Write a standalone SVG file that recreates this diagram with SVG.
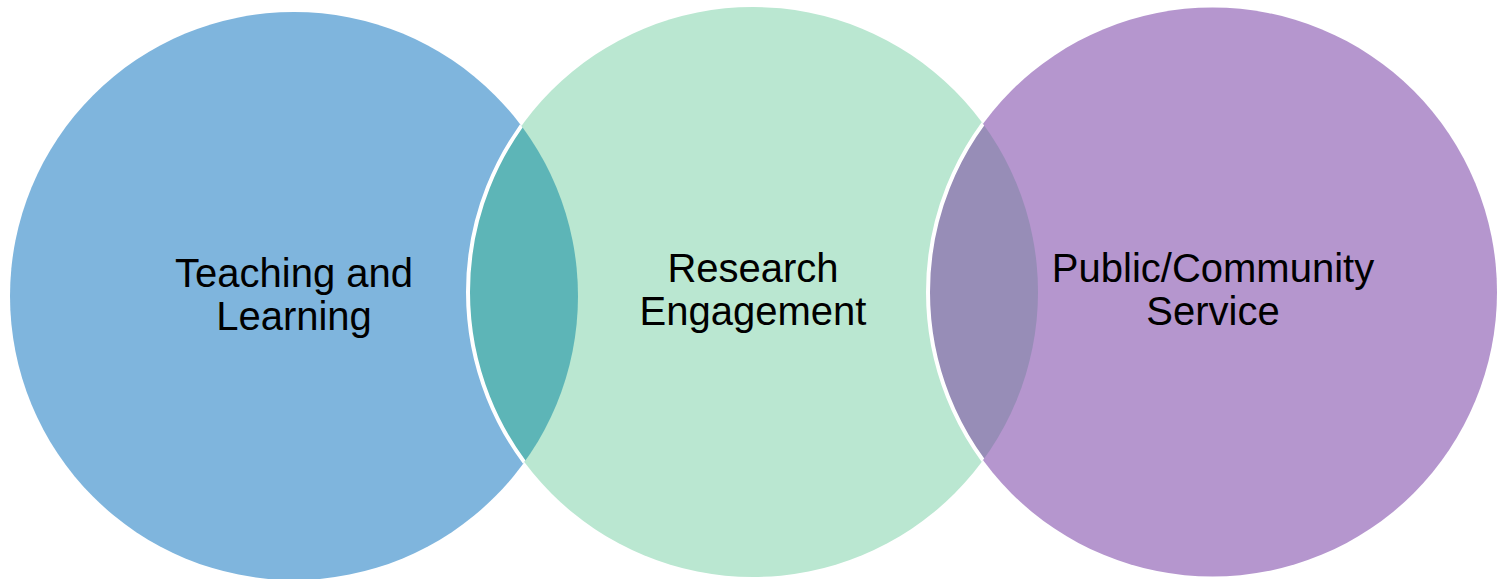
<svg xmlns="http://www.w3.org/2000/svg" width="1502" height="579" viewBox="0 0 1502 579">
<style>
.lbl{font-family:"Liberation Sans",Arial,sans-serif;font-size:40px;fill:#000;text-anchor:middle}
.edge{fill:none;stroke:#fff;stroke-width:4}
</style>
<defs>
<clipPath id="c1"><circle cx="294" cy="296" r="284"/></clipPath>
<clipPath id="c2"><circle cx="753" cy="292" r="285"/></clipPath>
</defs>
<rect width="1502" height="579" fill="#fff"/>
<g id="node-teaching"><circle cx="294" cy="296" r="284" fill="#7FB5DD"/></g>
<g id="node-research"><circle cx="753" cy="292" r="285" fill="#BAE7D1"/></g>
<g id="node-public"><circle cx="1212.5" cy="292" r="284.5" fill="#B596CE"/></g>
<g id="overlaps">
<circle cx="753" cy="292" r="285" fill="#5DB5B7" clip-path="url(#c1)"/>
<circle cx="753" cy="292" r="285" class="edge" clip-path="url(#c1)"/>
<circle cx="1212.5" cy="292" r="284.5" fill="#978DB7" clip-path="url(#c2)"/>
<circle cx="1212.5" cy="292" r="284.5" class="edge" clip-path="url(#c2)"/>
</g>
<g id="labels">
<text class="lbl" x="294" y="287">Teaching and</text>
<text class="lbl" x="294" y="330">Learning</text>
<text class="lbl" x="753" y="282">Research</text>
<text class="lbl" x="753" y="325">Engagement</text>
<text class="lbl" x="1213" y="282">Public/Community</text>
<text class="lbl" x="1213" y="325">Service</text>
</g>
</svg>
